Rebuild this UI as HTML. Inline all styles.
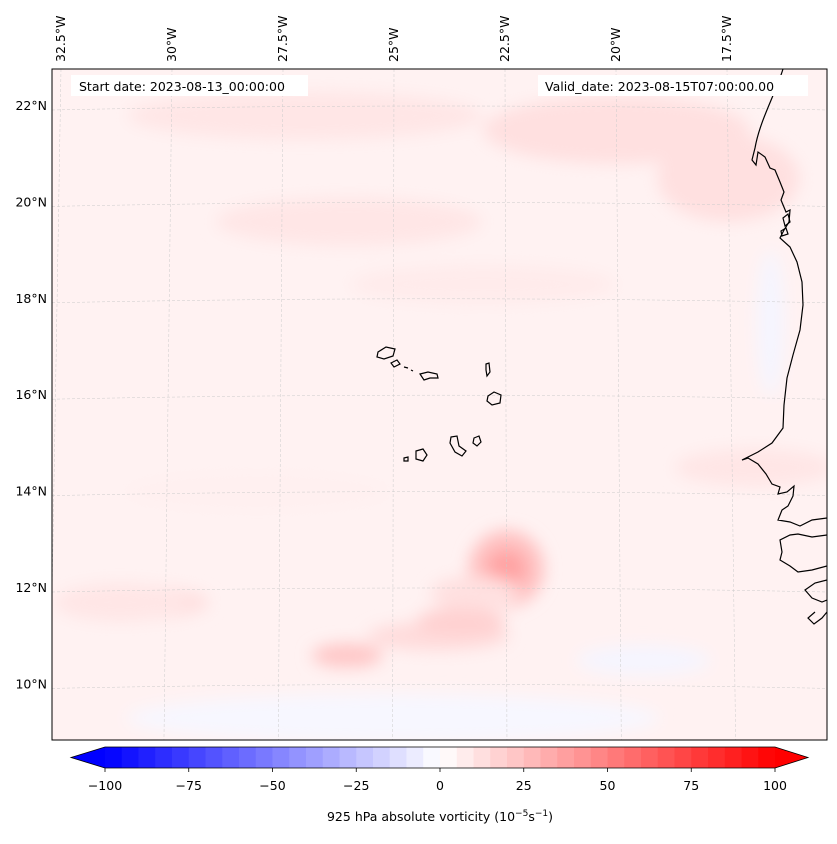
<!DOCTYPE html>
<html><head><meta charset="utf-8"><style>
body{margin:0;background:#fff;font-family:"Liberation Sans","DejaVu Sans",sans-serif;}
svg text{font-family:"DejaVu Sans","Liberation Sans",sans-serif;font-size:12.5px;fill:#000}
</style></head><body>
<svg id="fig" width="837" height="839" viewBox="0 0 837 839">
<defs>
<clipPath id="mapclip"><rect x="52" y="69" width="775" height="671"/></clipPath>
<filter id="bl" x="-50%" y="-50%" width="200%" height="200%"><feGaussianBlur stdDeviation="8"/></filter>
</defs>
<g id="field" clip-path="url(#mapclip)"></g>
<g id="grid" clip-path="url(#mapclip)"></g>
<g id="coast" clip-path="url(#mapclip)" fill="none" stroke="#000" stroke-width="1.2">
<path d="M783,69 C775,95 760,120 755,148 L752,160 L756,165 L758,152 L765,157 L770,168 L775,170 L780,182 L784,192 L781,200 L786,212 L790,210 L789,222 L784,230 L780,238 L790,247 L797,262 L802,282 L803,305 L800,330 L793,355 L787,378 L784,405 L783,428 L772,443 L758,452 L742,460 L748,458 L758,464 L766,474 L772,484 L780,487 L778,494 L787,492 L794,486 L793,496 L788,506 L782,510 L778,520 L790,522 L800,526 L812,520 L827,518"/>
<path d="M827,535 L812,537 L798,534 L790,535 L780,540 L782,552 L780,560 L790,566 L798,572 L812,570 L827,566"/>
<path d="M827,580 L815,583 L805,590 L812,598 L822,602 L827,600 M815,612 L808,618 L814,624 L822,618 L827,612"/>
<path d="M783,218 L788,214 L790,222 L785,226 Z M781,231 L786,228 L788,234 L782,236 Z"/>
<g>
<path d="M378,352 L386,347 L395,349 L393,356 L384,359 L377,357 Z"/>
<path d="M391,363 L397,360 L400,364 L394,367 Z"/>
<path d="M404,367 L408,368 M411,370 L413,371"/>
<path d="M420,374 L428,372 L437,374 L438,378 L430,378 L424,380 Z"/>
<path d="M486,364 L489,363 L490,372 L487,376 L486,370 Z"/>
<path d="M488,396 L494,392 L501,395 L500,403 L492,405 L487,401 Z"/>
<path d="M474,438 L479,436 L481,442 L477,446 L473,443 Z"/>
<path d="M451,437 L457,436 L459,446 L466,451 L462,456 L455,452 L450,443 Z"/>
<path d="M416,451 L423,449 L427,455 L423,461 L416,459 Z"/>
<path d="M404,458 L408,457 L408,461 L404,461 Z"/>
</g>
</g>
<rect x="52" y="69" width="775" height="671" fill="none" stroke="#000" stroke-width="1"/>
<rect x="71" y="75" width="237" height="21" fill="#fff"/>
<text x="79" y="91">Start date: 2023-08-13_00:00:00</text>
<rect x="538" y="75" width="270" height="21" fill="#fff"/>
<text x="545" y="91">Valid_date: 2023-08-15T07:00:00.00</text>
<g id="latlabels"></g>
<g id="lonlabels"></g>
<g id="cbar"></g>
<text x="440" y="821" text-anchor="middle">925 hPa absolute vorticity (10<tspan dy="-5" font-size="9">−5</tspan><tspan dy="5">s</tspan><tspan dy="-5" font-size="9">−1</tspan><tspan dy="5">)</tspan></text>
</svg>
<script>
// ---- data ----
const latTicks=[22,20,18,16,14,12,10];
const lonTicks=[-32.5,-30,-27.5,-25,-22.5,-20,-17.5];
const cbarTicks=[-100,-75,-50,-25,0,25,50,75,100];
const cbarLevels=[-100,-95,-90,-85,-80,-75,-70,-65,-60,-55,-50,-45,-40,-35,-30,-25,-20,-15,-10,-5,0,5,10,15,20,25,30,35,40,45,50,55,60,65,70,75,80,85,90,95,100];
// vorticity features: lon, lat, radius-lon (deg), radius-lat (deg), value
const blobLon=[-27,-20,-17.5,-26,-23,-22.5,-24,-30.5,-22.5,-23.5,-26,-17,-31,-19.5,-28,-16.6,-25,-23.2];
const blobLat=[21.8,21.5,20.5,19.6,18.3,12.4,11,11.7,12.4,11.3,10.6,14.5,11.7,10.5,14,17.5,9.3,11.9];
const blobRx=[4,3,1.6,3,3,0.85,1.6,1.5,0.45,1,0.8,1.8,1.5,1.5,3,0.3,6,1.0];
const blobRy=[0.5,0.7,0.9,0.5,0.4,0.8,0.3,0.35,0.4,0.3,0.25,0.4,0.4,0.3,0.4,1.5,0.5,0.35];
const blobVal=[10,12,12,10,8,24,14,12,36,18,22,10,10,-4,6,-4,-3,12];
const ns="http://www.w3.org/2000/svg";
// ---- axis functions ----
function yLat(l){return 106+(22-l)*48.2;}
function xLon(l,y){const x0=505+(l+22.5)*44.4;return x0+(x0-440)*0.03*((y-69)/671);}
function cx(v){return 440+v*3.35;}
function col(v){v=Math.max(-100,Math.min(100,v));if(v>=0){const g=Math.round(255*(1-v/100));return `rgb(255,${g},${g})`;}const g=Math.round(255*(1+v/100));return `rgb(${g},${g},255)`;}
function mk(t,a,p){const e=document.createElementNS(ns,t);for(const k in a)e.setAttribute(k,a[k]);p.appendChild(e);return e;}
// field
const field=document.getElementById('field');
mk('rect',{x:52,y:69,width:775,height:671,fill:col(5)},field);
const fg=mk('g',{filter:'url(#bl)'},field);
blobLon.forEach((lo,i)=>{
 const y=yLat(blobLat[i]);
 const e=mk('ellipse',{cx:xLon(lo,y),cy:y,rx:blobRx[i]*44.4,ry:blobRy[i]*48.2,fill:col(blobVal[i])},fg);
 
 
});
// grid
const grid=document.getElementById('grid');
latTicks.forEach(l=>{const y=yLat(l);
 const p=mk('path',{d:`M52,${y+4} Q440,${y-4} 827,${y+4}`,stroke:'#ccc','stroke-width':0.5,'stroke-dasharray':'3,2',fill:'none'},grid);
 
 
});
lonTicks.forEach(l=>{
 const p=mk('line',{x1:xLon(l,69),y1:69,x2:xLon(l,740),y2:740,stroke:'#ccc','stroke-width':0.5,'stroke-dasharray':'3,2'},grid);
 
 
});
// labels
const latG=document.getElementById('latlabels');
latTicks.forEach(l=>{const t=mk('text',{x:47,y:yLat(l)+4,'text-anchor':'end'},latG);t.textContent=l+'°N';
 
 });
const lonG=document.getElementById('lonlabels');
lonTicks.forEach(l=>{const x=xLon(l,69)+4;const t=mk('text',{x:x,y:62,transform:`rotate(-90 ${x} 62)`},lonG);t.textContent=(-l)+'°W';
 
 });
// colorbar
const cb=document.getElementById('cbar');
const cTop=747,cBot=768,cMid=(cTop+cBot)/2;
for(let i=0;i<cbarLevels.length-1;i++){
 const a=cbarLevels[i],b=cbarLevels[i+1];
 const r=mk('rect',{x:cx(a),y:cTop,width:cx(b)-cx(a)+0.5,height:cBot-cTop,fill:col((a+b)/2)},cb);
 
 
}
const lt=mk('polygon',{points:`${cx(-100)},${cTop} 71,${cMid} ${cx(-100)},${cBot}`,fill:col(-100)},cb);


const rt=mk('polygon',{points:`${cx(100)},${cTop} 808,${cMid} ${cx(100)},${cBot}`,fill:col(100)},cb);


mk('polygon',{points:`71,${cMid} ${cx(-100)},${cTop} ${cx(100)},${cTop} 808,${cMid} ${cx(100)},${cBot} ${cx(-100)},${cBot}`,fill:'none',stroke:'#000','stroke-width':0.8},cb);
cbarTicks.forEach(v=>{mk('line',{x1:cx(v),y1:cBot,x2:cx(v),y2:cBot+4,stroke:'#000','stroke-width':0.8},cb);
 const t=mk('text',{x:cx(v),y:cBot+22,'text-anchor':'middle'},cb);t.textContent=(v<0?'−':'')+Math.abs(v);
 
 });
</script>
</body></html>
